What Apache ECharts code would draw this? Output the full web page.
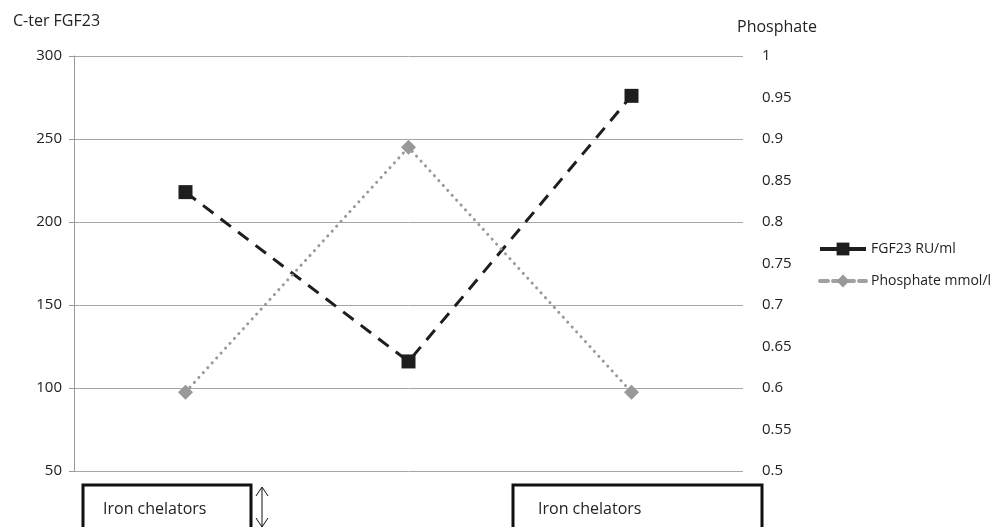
<!DOCTYPE html>
<html><head><meta charset="utf-8">
<script src="https://cdn.jsdelivr.net/npm/echarts@6/dist/echarts.min.js"></script>
<style>html,body{margin:0;padding:0;background:#fff}#c{width:1005px;height:527px}</style>
</head><body><div id="c"></div>
<script>
const categories = ['Before', 'During', 'After'];
const fgf23 = [218, 116, 276];
const phosphate = [0.595, 0.89, 0.595];
const leftTicks = [50, 100, 150, 200, 250, 300];
const rightTicks = [0.5, 0.55, 0.6, 0.65, 0.7, 0.75, 0.8, 0.85, 0.9, 0.95, 1];
const boxLabels = ['Iron chelators', 'Iron chelators'];

const FONT = 'Open Sans';
const chart = echarts.init(document.getElementById('c'));
chart.setOption({
  animation: false,
  backgroundColor: '#fff',
  textStyle: { fontFamily: FONT },
  grid: { left: 74, right: 262, top: 56, bottom: 56, containLabel: false },
  legend: {
    orient: 'vertical', left: 813, top: 237, itemWidth: 46, itemHeight: 16, itemGap: 18,
    textStyle: { fontFamily: FONT, fontSize: 14, color: '#222' },
    data: [
      { name: 'FGF23 RU/ml', lineStyle: { type: 'solid', width: 4, color: '#1e1e1e' } },
      { name: 'Phosphate mmol/l', lineStyle: { type: [8, 5], width: 4, color: '#a0a0a0' } }
    ]
  },
  xAxis: {
    type: 'category', data: categories, boundaryGap: true,
    axisLine: { show: false }, axisTick: { show: false }, axisLabel: { show: false }
  },
  yAxis: [
    { type: 'value', min: leftTicks[0], max: leftTicks[leftTicks.length - 1], interval: 50,
      axisLine: { show: true, lineStyle: { color: '#999', width: 1 } },
      axisTick: { show: true, length: 5, lineStyle: { color: '#999' } },
      axisLabel: { margin: 12, fontSize: 15, color: '#222', fontFamily: FONT },
      splitLine: { show: true, lineStyle: { color: '#a6a6a6', width: 1 } } },
    { type: 'value', position: 'right', min: rightTicks[0], max: rightTicks[rightTicks.length - 1], interval: 0.05,
      axisLine: { show: false }, axisTick: { show: false }, splitLine: { show: false },
      axisLabel: { margin: 19, fontSize: 15, color: '#222', fontFamily: FONT,
        formatter: v => String(Math.round(v * 100) / 100) } }
  ],
  series: [
    { name: 'FGF23 RU/ml', type: 'line', yAxisIndex: 0, data: fgf23,
      symbol: 'rect', symbolSize: 14, itemStyle: { color: '#1e1e1e' },
      lineStyle: { color: '#1e1e1e', width: 3, type: [13, 9] } },
    { name: 'Phosphate mmol/l', type: 'line', yAxisIndex: 1, data: phosphate,
      symbol: 'diamond', symbolSize: 15, itemStyle: { color: '#999' },
      lineStyle: { color: '#999', width: 3, type: [0.1, 6.5], cap: 'round' } }
  ],
  graphic: [
    { type: 'text', left: 13, top: 13, style: { text: 'C-ter FGF23', font: '16px "' + FONT + '"', fill: '#222' } },
    { type: 'text', left: 737, top: 19, style: { text: 'Phosphate', font: '16px "' + FONT + '"', fill: '#222' } },
    { type: 'rect', shape: { x: 83, y: 485, width: 168, height: 60 }, style: { fill: '#fff', stroke: '#111', lineWidth: 3 } },
    { type: 'text', left: 103, top: 501, style: { text: boxLabels[0], font: '16px "' + FONT + '"', fill: '#222' } },
    { type: 'rect', shape: { x: 513, y: 485, width: 249, height: 60 }, style: { fill: '#fff', stroke: '#111', lineWidth: 3 } },
    { type: 'text', left: 538, top: 501, style: { text: boxLabels[1], font: '16px "' + FONT + '"', fill: '#222' } },
    { type: 'polyline', shape: { points: [[262, 488], [262, 527]] }, style: { stroke: '#111', lineWidth: 1 } },
    { type: 'polyline', shape: { points: [[256, 496], [262, 487], [268, 496]] }, style: { stroke: '#111', lineWidth: 1, fill: null } },
    { type: 'polyline', shape: { points: [[256, 518], [262, 527], [268, 518]] }, style: { stroke: '#111', lineWidth: 1, fill: null } }
  ]
});
</script></body></html>
